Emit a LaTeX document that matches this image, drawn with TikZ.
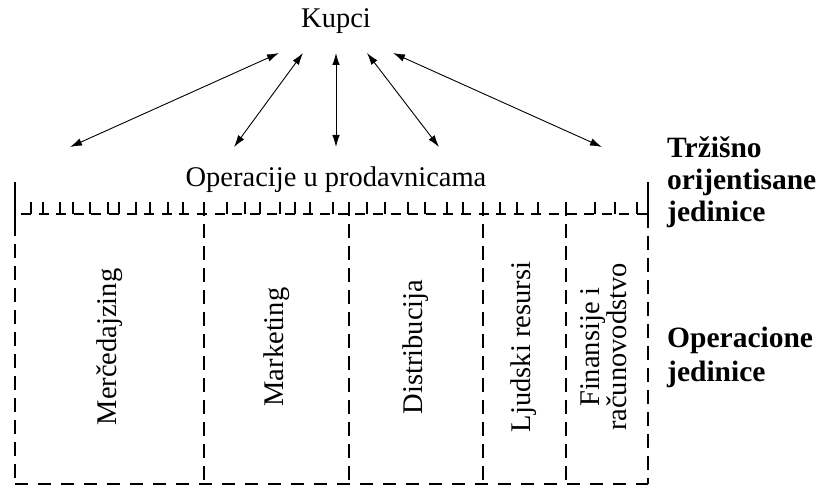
\documentclass[tikz,border=0pt]{standalone}
\usepackage{fontspec}
\setmainfont{Liberation Serif}
\usetikzlibrary{arrows.meta}
\begin{document}
\begin{tikzpicture}[x=1pt,y=-1pt,
  txt/.style={inner sep=0pt,font=\fontsize{28.5}{31}\selectfont},
  side/.style={inner sep=0pt,anchor=west,align=left,font=\fontsize{29.5}{32}\selectfont\bfseries},
  link/.style={line width=0.9pt,{Latex[length=12pt,width=7.5pt]}-{Latex[length=12pt,width=7.5pt]}},
  border/.style={line width=1.4pt,dash pattern=on 14pt off 8pt},
  edge/.style={line width=1.4pt},
  tick/.style={line width=1.2pt}]
\useasboundingbox (0,0) rectangle (821,486);

% customers and the two-way links to the store operations
\node[txt] (kupci) at (336,21) {Kupci};
\foreach \i/\tx/\bx in {1/279/70, 2/303/234, 3/336/336, 4/367/439, 5/393/602}{
  \coordinate (t\i) at (\tx,53);
  \coordinate (b\i) at (\bx,147);
  \draw[link] (t\i) -- (b\i);
}

% market-oriented unit
\node[txt] (oper) at (336,180) {Operacije u prodavnicama};
\coordinate (lt) at (15,182);
\coordinate (lm) at (15,222);
\coordinate (rt) at (648,182);
\coordinate (rm) at (648,214);
\draw[edge] (lt) -- (lm);
\draw[edge] (rt) -- (rm);

% comb-shaped lower edge of the market-oriented unit
\coordinate (cl) at (21,214);
\coordinate (cr) at (648,214);
\draw[tick,dash pattern=on 10pt off 7.6pt] (cl) -- (cr);
\foreach \x in {31,43,60,73,90,108,119,136,150,168,183,227,245,260,280,295,310,333,367,385,408,425,447,463,500,517,538,595,615,637}{
  \draw[tick] (\x,202) -- (\x,214);
}

% operational units
\coordinate (bl) at (15,484);
\coordinate (br) at (648,484);
\draw[border] (lm) -- (bl);
\draw[border] (rm) -- (br);
\draw[edge,dash pattern=on 13pt off 10pt] (bl) -- (br);
\foreach \x/\n in {204/a,349/b,483/c,566/d}{
  \coordinate (d\n t) at (\x,202);
  \coordinate (d\n b) at (\x,484);
  \draw[border] (d\n t) -- (d\n b);
}

\node[txt,rotate=90] (merc) at (110,347) {Merčedajzing};
\node[txt,rotate=90] (mark) at (277,347) {Marketing};
\node[txt,rotate=90] (dist) at (416,347) {Distribucija};
\node[txt,rotate=90] (ljud) at (524,347) {Ljudski resursi};
\node[txt,rotate=90,align=center,font=\fontsize{28.5}{27}\selectfont] (fin) at (604,347) {Finansije i\\računovodstvo};

% level captions
\node[side] (trz) at (667,182) {Tržišno\\orijentisane\\jedinice};
\node[side,font=\fontsize{29.5}{34}\selectfont\bfseries] (opj) at (667,357) {Operacione\\jedinice};
\end{tikzpicture}
\end{document}
